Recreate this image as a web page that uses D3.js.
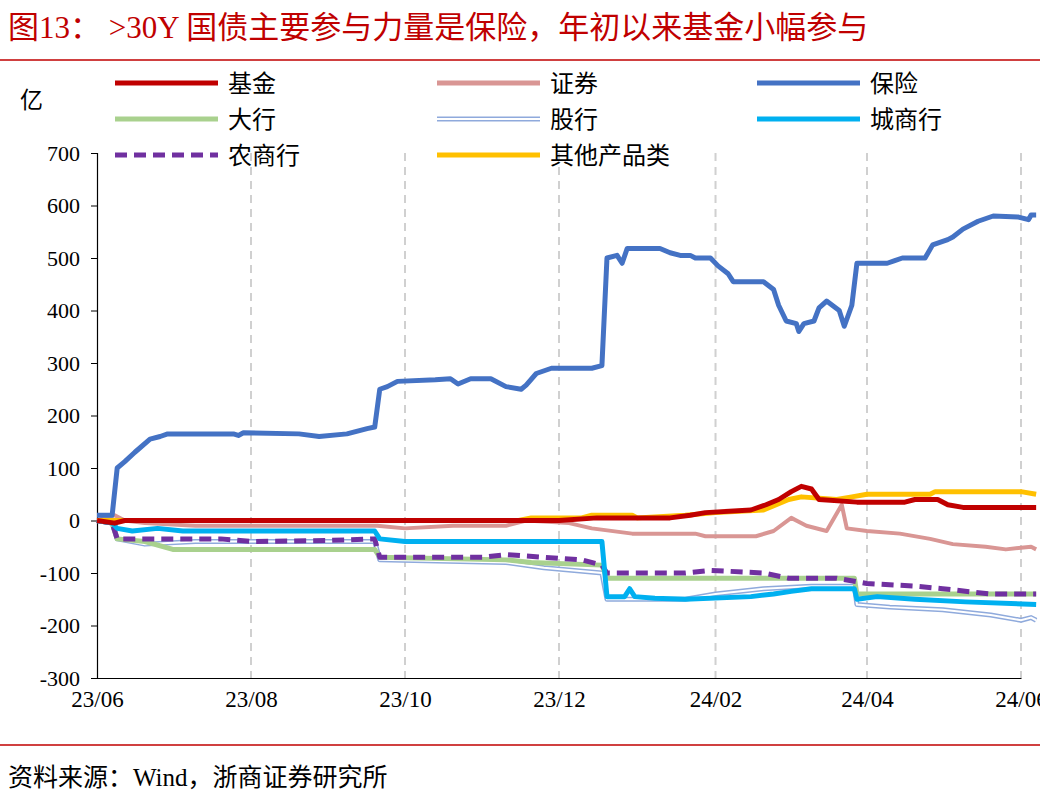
<!DOCTYPE html>
<html><head><meta charset="utf-8">
<script src="https://cdn.jsdelivr.net/npm/d3@7/dist/d3.min.js"></script>
<style>body{margin:0;background:#fff}svg{display:block}</style>
</head><body><svg id="c" width="1040" height="798"></svg>
<script>
const yTicks=[700,600,500,400,300,200,100,0,-100,-200,-300];
const xTickDates=["2023-06-01","2023-08-01","2023-10-01","2023-12-01","2024-02-01","2024-04-01","2024-06-01"];
const xTickLabels=["23/06","23/08","23/10","23/12","24/02","24/04","24/06"];
const seriesNames=["基金","证券","保险","大行","股行","城商行","农商行","其他产品类"];
const fund=[["2023-06-01",0],["2023-06-08",-5],["2023-06-12",0],["2023-12-01",0],["2023-12-16",5],["2024-01-14",5],["2024-01-22",10],["2024-01-28",15],["2024-02-15",20],["2024-02-21",30],["2024-02-26",40],["2024-03-02",55],["2024-03-06",65],["2024-03-10",60],["2024-03-13",40],["2024-03-28",35],["2024-04-16",35],["2024-04-20",40],["2024-04-29",40],["2024-05-03",30],["2024-05-09",25],["2024-06-07",25]];
const sec=[["2023-06-01",0],["2023-06-08",10],["2023-06-12",0],["2023-06-20",-5],["2023-07-10",-10],["2023-08-20",-10],["2023-09-20",-10],["2023-10-01",-15],["2023-10-20",-10],["2023-11-10",-10],["2023-11-18",0],["2023-12-05",-5],["2023-12-14",-15],["2023-12-30",-25],["2024-01-24",-25],["2024-01-28",-30],["2024-02-17",-30],["2024-02-24",-20],["2024-03-02",5],["2024-03-08",-10],["2024-03-16",-20],["2024-03-22",30],["2024-03-24",-15],["2024-04-01",-20],["2024-04-14",-25],["2024-04-26",-35],["2024-05-05",-45],["2024-05-18",-50],["2024-05-26",-55],["2024-06-05",-50],["2024-06-07",-55]];
const ins=[["2023-06-01",10],["2023-06-07",10],["2023-06-09",100],["2023-06-12",112],["2023-06-16",130],["2023-06-22",155],["2023-06-26",160],["2023-06-29",165],["2023-07-25",165],["2023-07-27",162],["2023-07-29",167],["2023-08-20",165],["2023-08-28",160],["2023-09-08",165],["2023-09-16",175],["2023-09-19",178],["2023-09-21",250],["2023-09-24",255],["2023-09-28",265],["2023-10-13",268],["2023-10-19",270],["2023-10-22",260],["2023-10-27",270],["2023-11-04",270],["2023-11-10",255],["2023-11-16",250],["2023-11-18",258],["2023-11-22",280],["2023-11-28",290],["2023-12-14",290],["2023-12-18",295],["2023-12-20",500],["2023-12-24",505],["2023-12-26",490],["2023-12-28",518],["2024-01-10",518],["2024-01-14",510],["2024-01-18",505],["2024-01-22",505],["2024-01-24",500],["2024-01-30",500],["2024-02-02",485],["2024-02-06",470],["2024-02-08",455],["2024-02-20",455],["2024-02-24",440],["2024-02-26",410],["2024-02-29",380],["2024-03-04",375],["2024-03-05",360],["2024-03-07",375],["2024-03-11",380],["2024-03-13",405],["2024-03-16",418],["2024-03-21",400],["2024-03-23",370],["2024-03-26",410],["2024-03-28",490],["2024-04-09",490],["2024-04-12",495],["2024-04-15",500],["2024-04-24",500],["2024-04-27",525],["2024-05-03",535],["2024-05-05",540],["2024-05-09",555],["2024-05-15",570],["2024-05-21",580],["2024-05-31",578],["2024-06-04",573],["2024-06-05",582],["2024-06-07",582]];
const big=[["2023-06-01",0],["2023-06-07",-5],["2023-06-09",-35],["2023-06-20",-40],["2023-07-01",-55],["2023-09-19",-55],["2023-09-21",-70],["2023-11-10",-75],["2023-11-20",-80],["2023-12-18",-85],["2023-12-20",-110],["2024-03-27",-110],["2024-03-28",-140],["2024-06-07",-140]];
const jsb=[["2023-06-01",0],["2023-06-07",-5],["2023-06-09",-35],["2023-06-20",-45],["2023-07-10",-40],["2023-09-19",-40],["2023-09-21",-75],["2023-11-10",-80],["2023-11-25",-90],["2023-12-18",-100],["2023-12-20",-150],["2024-01-20",-150],["2024-02-01",-140],["2024-02-20",-130],["2024-03-10",-125],["2024-03-27",-125],["2024-03-28",-160],["2024-04-10",-165],["2024-05-01",-170],["2024-05-20",-180],["2024-06-01",-190],["2024-06-05",-185],["2024-06-07",-190]];
const city=[["2023-06-01",0],["2023-06-07",-5],["2023-06-09",-15],["2023-06-15",-20],["2023-06-25",-15],["2023-07-05",-20],["2023-09-19",-20],["2023-09-21",-35],["2023-10-01",-40],["2023-12-18",-40],["2023-12-20",-145],["2023-12-27",-145],["2023-12-29",-130],["2023-12-31",-145],["2024-01-08",-148],["2024-01-20",-150],["2024-02-15",-145],["2024-02-24",-140],["2024-03-02",-135],["2024-03-10",-130],["2024-03-27",-130],["2024-03-28",-150],["2024-04-05",-145],["2024-04-20",-150],["2024-05-10",-155],["2024-06-07",-160]];
const rural=[["2023-06-01",0],["2023-06-07",-5],["2023-06-09",-35],["2023-07-20",-35],["2023-08-01",-40],["2023-09-01",-38],["2023-09-19",-35],["2023-09-21",-70],["2023-11-01",-70],["2023-11-10",-65],["2023-11-25",-70],["2023-12-10",-75],["2023-12-18",-85],["2023-12-20",-100],["2024-01-20",-100],["2024-01-30",-95],["2024-02-20",-100],["2024-03-01",-110],["2024-03-20",-110],["2024-04-01",-120],["2024-04-20",-125],["2024-05-01",-130],["2024-05-20",-140],["2024-06-07",-140]];
const other=[["2023-06-01",0],["2023-11-15",0],["2023-11-20",5],["2023-12-10",5],["2023-12-14",10],["2023-12-30",10],["2024-01-01",5],["2024-01-20",10],["2024-02-01",15],["2024-02-20",20],["2024-03-01",40],["2024-03-06",45],["2024-03-20",40],["2024-03-26",45],["2024-04-01",50],["2024-04-26",50],["2024-04-28",55],["2024-06-01",55],["2024-06-07",50]];

const svg=d3.select("#c");
const P=d3.timeParse("%Y-%m-%d");
const x=d3.scaleTime().domain([P("2023-06-01"),P("2024-06-01")]).range([97,1021]);
const y=d3.scaleLinear().domain([-300,700]).range([678,153]);
const serif="'Liberation Serif','Times New Roman',serif";
const cjk="'Noto Sans CJK SC',sans-serif";

svg.append("text").attr("x",8).attr("y",38).attr("fill","#c00000").attr("font-size",31).attr("font-family",serif+","+cjk)
 .text("图13：  >30Y 国债主要参与力量是保险，年初以来基金小幅参与");
svg.append("line").attr("x1",0).attr("x2",1040).attr("y1",60).attr("y2",60).attr("stroke","#c00000").attr("stroke-width",1.5);
svg.append("line").attr("x1",0).attr("x2",1040).attr("y1",745).attr("y2",745).attr("stroke","#c00000").attr("stroke-width",1.5);
svg.append("text").attr("x",8).attr("y",786).attr("font-size",25).attr("font-family",serif+","+cjk).text("资料来源：Wind，浙商证券研究所");

xTickDates.slice(1).forEach(d=>{
 svg.append("line").attr("x1",x(P(d))).attr("x2",x(P(d))).attr("y1",153).attr("y2",678).attr("stroke","#d0d0d0").attr("stroke-width",2).attr("stroke-dasharray","8,6");
});
const ya=svg.append("g").attr("transform","translate(97,0)").call(d3.axisLeft(y).tickValues(yTicks).tickSize(6).tickFormat(d=>String(d)));
ya.selectAll("text").attr("font-size",22).attr("font-family",serif).attr("fill","#000").attr("dx",-8);
ya.select(".domain").attr("stroke","#000").attr("stroke-width",1.2);
const xa=svg.append("g").attr("transform","translate(0,678)").call(d3.axisBottom(x).tickValues(xTickDates.map(P)).tickSize(0).tickFormat((d,i)=>xTickLabels[i]));
xa.selectAll("text").attr("font-size",23).attr("font-family",serif).attr("fill","#000").attr("dy",26);
xa.select(".domain").attr("stroke","#000").attr("stroke-width",1.2);
svg.append("text").attr("x",20).attr("y",108).attr("font-size",23).attr("font-family",cjk).text("亿");

const line=d3.line().x(d=>x(P(d[0]))).y(d=>y(d[1]));
const g=svg.append("g");
const styles=[
 {d:jsb,c:"#8faadc",w:5,double:true},
 {d:big,c:"#a9d18e",w:5},
 {d:rural,c:"#7030a0",w:5,dash:"12,7"},
 {d:city,c:"#00b0f0",w:5},
 {d:sec,c:"#d99694",w:4},
 {d:other,c:"#ffc000",w:5},
 {d:fund,c:"#c00000",w:5},
 {d:ins,c:"#4472c4",w:5},
];
styles.forEach(s=>{
 g.append("path").attr("d",line(s.d)).attr("fill","none").attr("stroke",s.c).attr("stroke-width",s.w).attr("stroke-dasharray",s.dash||null).attr("stroke-linejoin","round");
 if(s.double) g.append("path").attr("d",line(s.d)).attr("fill","none").attr("stroke","#fff").attr("stroke-width",2);
});
const leg=[["基金","#c00000"],["证券","#d99694"],["保险","#4472c4"],["大行","#a9d18e"],["股行","#8faadc"],["城商行","#00b0f0"],["农商行","#7030a0"],["其他产品类","#ffc000"]];
const cols=[115,437,757];
leg.forEach((l,i)=>{
 const cx=cols[i%3], cy=83+Math.floor(i/3)*36;
 const ln=svg.append("line").attr("x1",cx).attr("x2",cx+103).attr("y1",cy).attr("y2",cy).attr("stroke",l[1]).attr("stroke-width",5);
 if(l[0]==="农商行") ln.attr("stroke-dasharray","12,7");
 if(l[0]==="股行") svg.append("line").attr("x1",cx).attr("x2",cx+103).attr("y1",cy).attr("y2",cy).attr("stroke","#fff").attr("stroke-width",2);
 svg.append("text").attr("x",cx+113).attr("y",cy+9).attr("font-size",24).attr("font-family",cjk).text(l[0]);
});
</script></body></html>
